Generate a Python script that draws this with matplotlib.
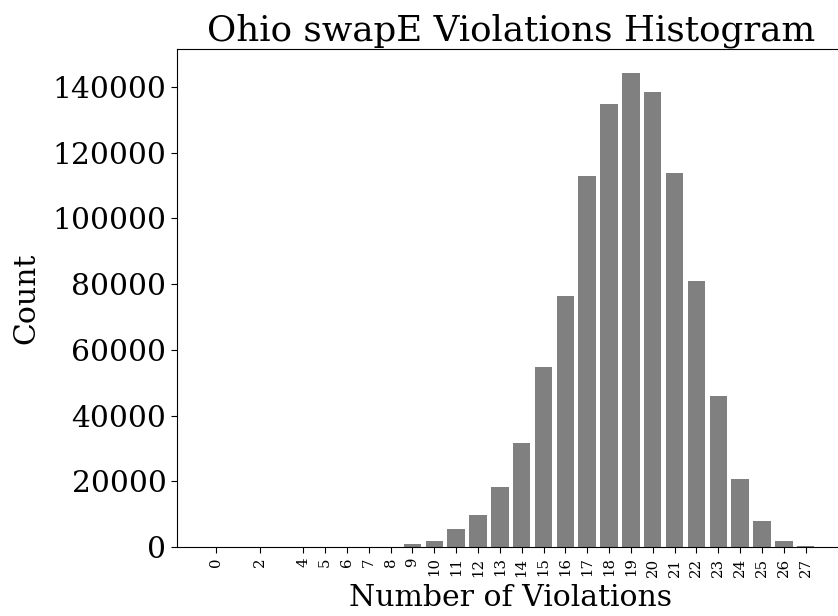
import numpy as np
import matplotlib
matplotlib.use('Agg')
import matplotlib.pyplot as plt

plt.rcParams['font.family'] = 'DejaVu Serif'

violations = [0, 2, 4, 5, 6, 7, 8, 9, 10, 11, 12, 13, 14, 15, 16, 17, 18,
              19, 20, 21, 22, 23, 24, 25, 26, 27]
counts = [5, 10, 20, 30, 40, 50, 80, 800, 1700, 5500, 9700, 18400, 31500,
          54700, 76500, 113000, 134700, 144200, 138300, 113900, 80800,
          45800, 20800, 7800, 1700, 300]

fig = plt.figure(figsize=(8.38, 6.16), dpi=100)
ax = fig.add_axes([0.211, 0.112, 0.797, 0.808])
ax.bar(violations, counts, color='gray', width=0.8)
ax.set_xticks(violations)
ax.set_xticklabels([str(v) for v in violations], rotation=90, fontsize=10.7)
ax.tick_params(axis='y', labelsize=21.4)
ax.tick_params(length=4)
ax.set_xlabel('Number of Violations', fontsize=21.5, labelpad=5.5)
ax.set_ylabel('Count', fontsize=21.5, labelpad=8.5)
ax.set_title('Ohio swapE Violations Histogram', fontsize=25.7)
fig.savefig('out.png', dpi=100)
